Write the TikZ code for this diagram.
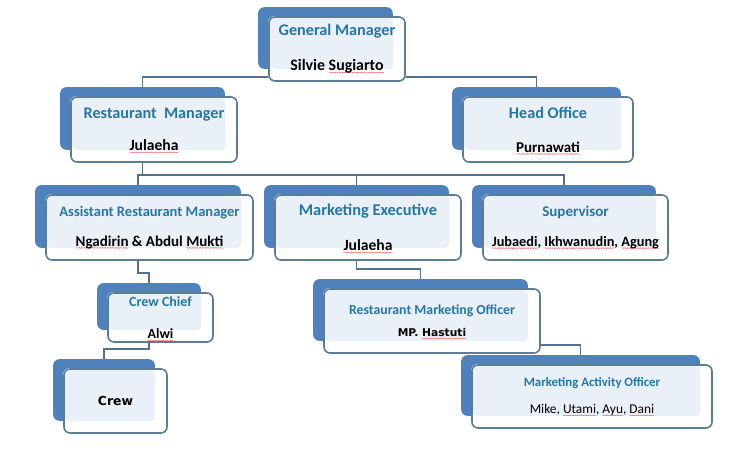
\documentclass[tikz,border=0pt]{standalone}
\usepackage{fontspec}
\setmainfont{Carlito}
\newfontfamily\wide{DejaVu Sans}
\usetikzlibrary{backgrounds,fit,decorations.pathmorphing}
\pgfdeclarelayer{edges}
\pgfsetlayers{edges,background,main}

\definecolor{backblue}{RGB}{79,129,189}
\definecolor{frameblue}{RGB}{92,124,152}
\definecolor{paleblue}{RGB}{234,240,248}
\definecolor{titleblue}{RGB}{36,118,168}
\definecolor{linkblue}{RGB}{84,114,142}

% red spell-check wave under a word
\newsavebox\typobox
\newlength\typolen
\newcommand\typo[1]{\sbox\typobox{#1}\setlength\typolen{\wd\typobox}%
  \leavevmode\rlap{\raisebox{-2.4pt}[0pt][0pt]{\tikz\draw[red!80, line width=0.3pt, sharp corners, decorate,
    decoration={snake, amplitude=0.45pt, segment length=2.6pt}] (0pt,0pt) -- (\typolen,0pt);}}%
  \usebox\typobox}
\newcommand\who[1]{{\color{black}#1}}

\begin{document}
\begin{tikzpicture}[
  x=1pt, y=-1pt,
  unit/.style={rectangle, draw=frameblue, line width=1.6pt, rounded corners=6pt,
    align=center, text=titleblue, inner sep=0pt,
    font=\bfseries\fontsize{16.2}{18}\selectfont},
  backbox/.style={fill=backblue, rounded corners=6pt, inner sep=0pt},
  link/.style={draw=linkblue, line width=1.6pt},
]
\useasboundingbox (0,0) rectangle (733,452);

% Row 0
\node[unit, minimum width=136, minimum height=64] (gm) at (337,49)
  {General Manager\\[17pt]\who{\fontsize{15.9}{18}\selectfont Silvie \typo{Sugiarto}}};

% Row 1
\node[unit, minimum width=166, minimum height=65] (rm) at (154,129.5)
  {Restaurant\ \ Manager\\[14pt]\who{\fontsize{15.6}{18}\selectfont\typo{Julaeha}}};
\node[unit, minimum width=170, minimum height=65] (ho) at (548,129.5)
  {Head Office\\[16pt]\who{\fontsize{15}{18}\selectfont\typo{Purnawati}}};

% Row 2
\node[unit, minimum width=207, minimum height=65, font=\bfseries\fontsize{14.5}{15.6}\selectfont] (arm) at (149.5,227.5)
  {Assistant Restaurant Manager\\[14pt]\who{\fontsize{15}{16}\selectfont\typo{Ngadirin} \& Abdul \typo{Mukti}}};
\node[unit, minimum width=186, minimum height=65, font=\bfseries\fontsize{16.4}{18}\selectfont] (me) at (368,227.5)
  {Marketing Executive\\[17pt]\who{\fontsize{15.6}{18}\selectfont\typo{Julaeha}}};
\node[unit, minimum width=185, minimum height=65, font=\bfseries\fontsize{15}{15.6}\selectfont] (sup) at (575.5,227.5)
  {Supervisor\\[14pt]\who{\fontsize{14.3}{16}\selectfont\typo{Jubaedi}, \typo{Ikhwanudin}, \typo{Agung}}};

% Row 3
\node[unit, minimum width=105, minimum height=49, font=\bfseries\fontsize{14}{14.4}\selectfont] (cc) at (160.5,317.5)
  {Crew Chief\\[18pt]\who{\fontsize{14}{15}\selectfont\typo{Alwi}}};
\node[unit, minimum width=216, minimum height=64, font=\bfseries\fontsize{13.8}{15.6}\selectfont] (rmo) at (432,321)
  {Restaurant Marketing Officer\\[6pt]\who{\wide\fontsize{10.7}{13}\selectfont MP. \typo{Hastuti}}};

% Row 4
\node[unit, minimum width=103, minimum height=64, text=black,
      font=\wide\bfseries\fontsize{12.4}{13}\selectfont] (crew) at (115.5,401) {Crew};
\node[unit, minimum width=240, minimum height=63, font=\bfseries\fontsize{12.8}{14.4}\selectfont] (mao) at (592,396.5)
  {Marketing Activity Officer\\[13pt]\who{\mdseries\fontsize{13.4}{14}\selectfont Mike, \typo{Utami}, \typo{Ayu}, \typo{Dani}}};

% shaded backing of every box
\begin{scope}[on background layer]
\foreach \n in {gm,rm,ho,arm,me,sup,cc,rmo,crew,mao}{
  \node[backbox, fit={([shift={(-10,-9)}]\n.north west) ([shift={(-13,-13)}]\n.south east)}] (\n-b) {};
  \fill[white, rounded corners=6pt] (\n.north west) rectangle (\n.south east);
  \fill[paleblue, rounded corners=4pt] ([shift={(2,2)}]\n.north west) rectangle (\n-b.south east);
}
\end{scope}

% reporting lines
\begin{pgfonlayer}{edges}
\draw[link] (rm-b.north) -- ++(0,-10) coordinate (j1) -| (ho-b.north);
\draw[link] (gm-b) -- (gm-b |- j1);
\draw[link] (arm-b.north) -- ++(0,-10) coordinate (j2) -| (sup-b.north);
\draw[link] (rm-b) -- (rm-b |- j2);
\draw[link] (me-b.north) -- (me-b.north |- j2);
\draw[link] (cc-b.north) -- ++(0,-10) -| (arm-b.south);
\draw[link] (crew-b.north) -- ++(0,-10) -| (cc-b.south);
\draw[link] (rmo-b.north) -- ++(0,-10) -| (me-b.south);
\draw[link] (mao-b.north) -- ++(0,-10) -| (rmo-b.south);
\end{pgfonlayer}

\end{tikzpicture}
\end{document}
